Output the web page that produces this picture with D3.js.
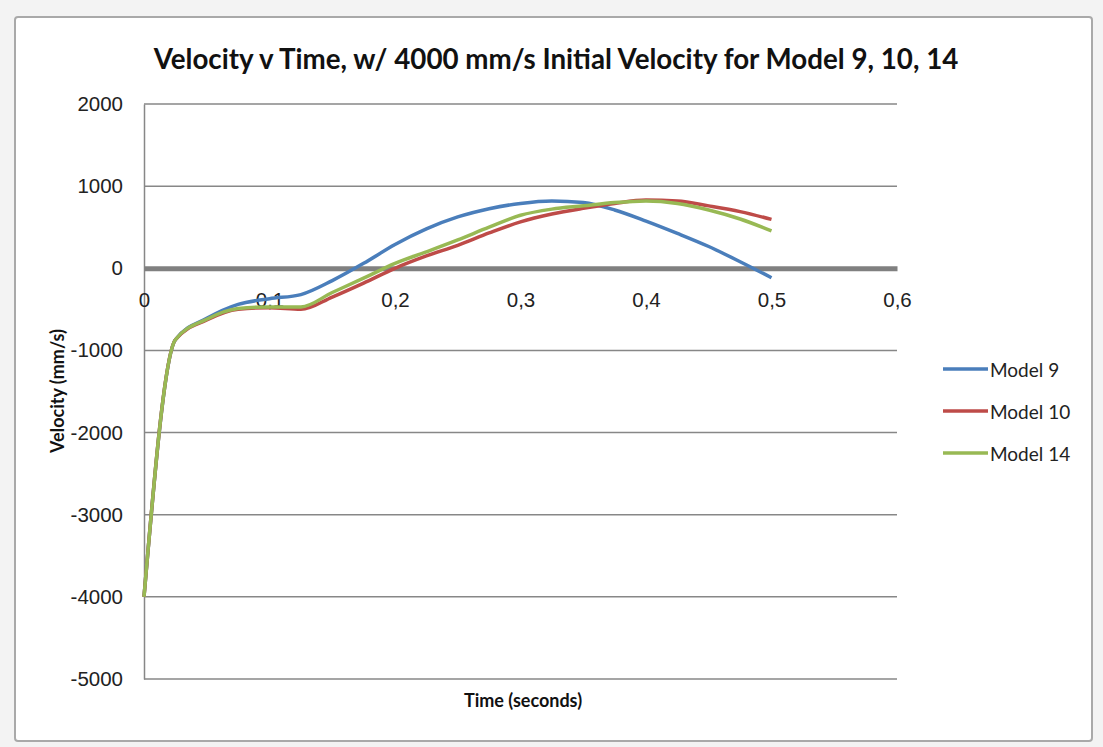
<!DOCTYPE html>
<html>
<head>
<meta charset="utf-8">
<script src="https://cdn.jsdelivr.net/npm/d3@7"></script>
<style>
body { margin: 0; background: #ffffff; }
svg { display: block; font-family: Lato, "Open Sans", sans-serif; }
</style>
</head>
<body>
<script>
var width = 1103, height = 747;

// time in seconds
var times = [0, 0.025, 0.05, 0.075, 0.1, 0.125, 0.15, 0.175, 0.2, 0.225, 0.25,
  0.275, 0.3, 0.325, 0.35, 0.375, 0.4, 0.425, 0.45, 0.475, 0.5];
// velocity (mm/s) for each model
var model9 = [-4000, -870, -610, -440, -370, -320, -150, 60, 290, 480, 625,
  725, 790, 820, 800, 710, 575, 425, 265, 80, -115];
var model10 = [-4000, -870, -630, -500, -480, -500, -350, -180, 0, 150, 280,
  430, 565, 660, 730, 790, 830, 820, 760, 690, 595];
var model14 = [-4000, -870, -620, -490, -470, -470, -295, -120, 60, 200, 345,
  500, 645, 720, 760, 800, 820, 790, 710, 600, 455];
var seriesNames = ['Model 9', 'Model 10', 'Model 14'];
var colors = ['#4a7ebb', '#be4b48', '#98b954'];
var yTicks = [2000, 1000, 0, -1000, -2000, -3000, -4000, -5000];
var xTicks = [0, 0.1, 0.2, 0.3, 0.4, 0.5, 0.6];

var series = [model9, model10, model14];

var svg = d3.select('body').append('svg').attr('width', width).attr('height', height);

// spreadsheet background + chart frame
svg.append('rect').attr('width', width).attr('height', height).attr('fill', '#f3f3f3');
svg.append('rect').attr('x', 15).attr('y', 17).attr('width', 1077).attr('height', 724)
  .attr('rx', 3).attr('fill', '#ffffff').attr('stroke', '#a9a9a9').attr('stroke-width', 2);

var x = d3.scaleLinear().domain([0, 0.6]).range([144, 897]);
var y = d3.scaleLinear().domain([-5000, 2000]).range([679, 104]);

// gridlines
svg.append('g')
  .selectAll('line')
  .data(yTicks.filter(function(d) { return d !== 0; }))
  .join('line')
  .attr('x1', x(0)).attr('x2', x(0.6))
  .attr('y1', function(d) { return y(d); })
  .attr('y2', function(d) { return y(d); })
  .attr('stroke', '#878787').attr('stroke-width', 1.5);

// y axis
var yAxis = svg.append('g')
  .attr('transform', 'translate(' + x(0) + ',0)')
  .call(d3.axisLeft(y).tickValues(yTicks).tickSize(0).tickPadding(21)
    .tickFormat(function(d) { return String(d); }));
yAxis.select('.domain').attr('stroke', '#878787').attr('stroke-width', 1.5);
yAxis.selectAll('text').attr('font-size', 20.5).attr('fill', '#222');

// x axis on the zero line
var commaFmt = function(d) { return d === 0 ? '0' : String(+d.toFixed(1)).replace('.', ','); };
var xAxis = svg.append('g')
  .attr('transform', 'translate(0,' + y(0) + ')')
  .call(d3.axisBottom(x).tickValues(xTicks).tickSize(0).tickPadding(24).tickFormat(commaFmt));
xAxis.select('.domain').attr('stroke', '#808080').attr('stroke-width', 5);
xAxis.selectAll('text').attr('font-size', 20.5).attr('fill', '#222');

// lines
var line = d3.line()
  .x(function(d, i) { return x(times[i]); })
  .y(function(d) { return y(d); })
  .curve(d3.curveMonotoneX);

svg.append('g')
  .selectAll('path')
  .data(series)
  .join('path')
  .attr('d', line)
  .attr('fill', 'none')
  .attr('stroke', function(d, i) { return colors[i]; })
  .attr('stroke-width', 3.5)
  .attr('stroke-linejoin', 'round');

// title
var title = svg.append('text')
  .attr('x', 556).attr('y', 58)
  .attr('text-anchor', 'middle').attr('dominant-baseline', 'central')
  .attr('font-weight', 'bold').attr('font-size', 28).attr('fill', '#111')
  .text('Velocity v Time, w/ 4000 mm/s Initial Velocity for Model 9, 10, 14');
var tw = title.node().getComputedTextLength();
title.attr('font-size', 28 * 805 / tw);

// axis titles
svg.append('text')
  .attr('transform', 'translate(57,391) rotate(-90)')
  .attr('text-anchor', 'middle').attr('dominant-baseline', 'central')
  .attr('font-weight', 'bold').attr('font-size', 18).attr('fill', '#111')
  .text('Velocity (mm/s)');
svg.append('text')
  .attr('x', 523).attr('y', 700)
  .attr('text-anchor', 'middle').attr('dominant-baseline', 'central')
  .attr('font-weight', 'bold').attr('font-size', 18).attr('fill', '#111')
  .text('Time (seconds)');

// legend
var legend = svg.append('g')
  .selectAll('g')
  .data(seriesNames)
  .join('g')
  .attr('transform', function(d, i) { return 'translate(943,' + (369 + i * 42) + ')'; });
legend.append('line')
  .attr('x1', 0).attr('x2', 45)
  .attr('stroke', function(d, i) { return colors[i]; })
  .attr('stroke-width', 3.5);
legend.append('text')
  .attr('x', 47).attr('dominant-baseline', 'central')
  .attr('font-size', 19).attr('fill', '#222')
  .text(function(d) { return d; });
</script>
</body>
</html>
